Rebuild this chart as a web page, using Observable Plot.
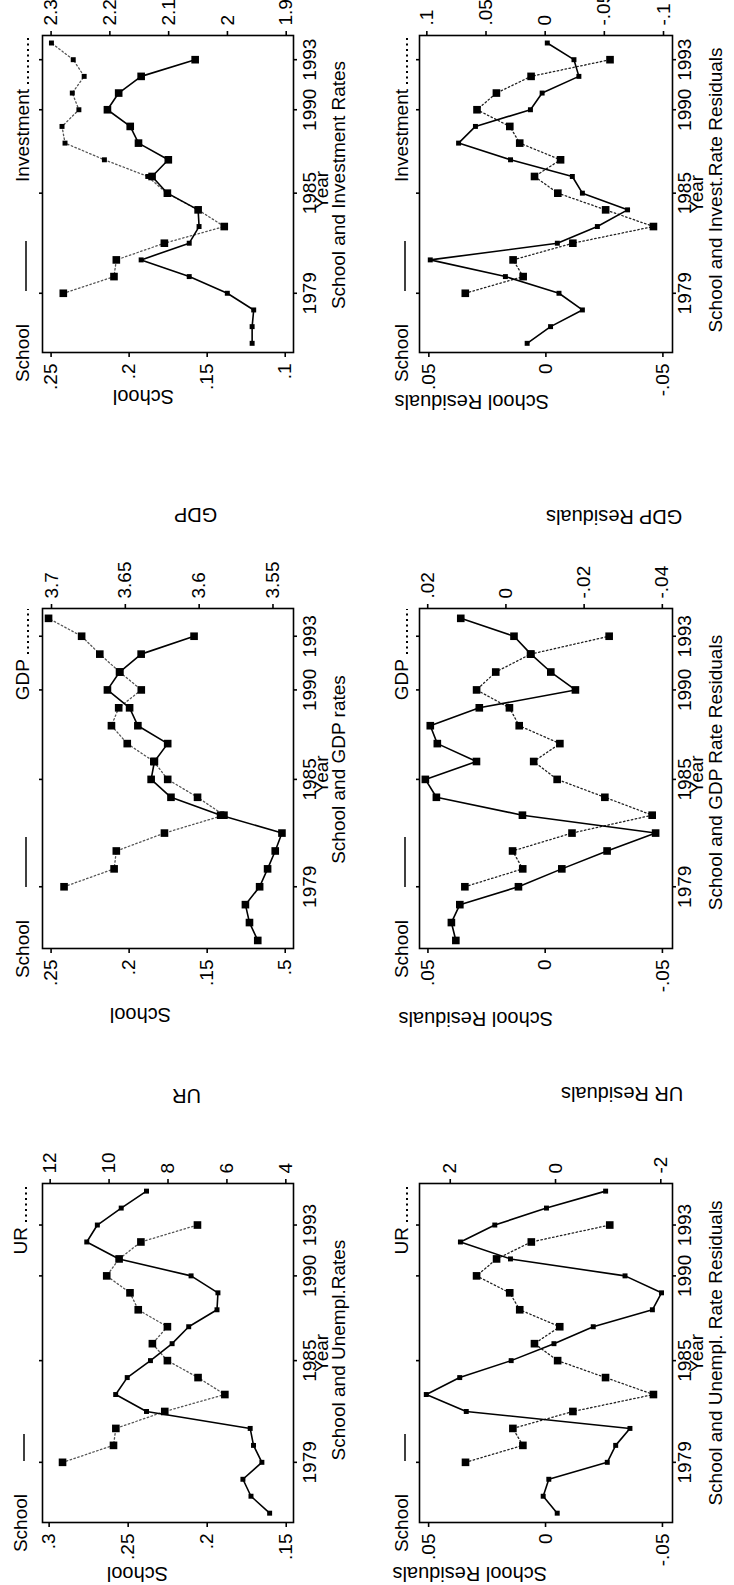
<!DOCTYPE html>
<html><head><meta charset="utf-8">
<script src="https://cdn.jsdelivr.net/npm/d3@7"></script>
<script src="https://cdn.jsdelivr.net/npm/@observablehq/plot@0.6"></script>
<style>
html,body{margin:0;padding:0;background:#fff;}
body{width:734px;height:1585px;overflow:hidden;position:relative;}
#land{position:absolute;left:0;top:0;width:1585px;height:734px;transform-origin:0 0;transform:translate(0px,1585px) rotate(-90deg);}
#land > svg{position:absolute;left:0;top:0;}
</style></head><body><div id="land"></div>
<script>
// ---------- data ----------
const xTicks = [1979, 1985, 1990, 1993];
const xTickLabels = ["1979", "1985", "1990", "1993"];

const years7695 = [1976,1977,1978,1979,1980,1981,1982,1983,1984,1985,1986,1987,1988,1989,1990,1991,1992,1993,1994,1995];
const years7993 = [1979,1980,1981,1982,1983,1984,1985,1986,1987,1988,1989,1990,1991,1992,1993];
const years7693 = [1976,1977,1978,1979,1980,1981,1982,1983,1984,1985,1986,1987,1988,1989,1990,1991,1992,1993];
const years7994 = [1979,1980,1981,1982,1983,1984,1985,1986,1987,1988,1989,1990,1991,1992,1993,1994];
const years7694 = [1976,1977,1978,1979,1980,1981,1982,1983,1984,1985,1986,1987,1988,1989,1990,1991,1992,1993,1994];

// School and Unempl. Rates
const schoolUR = [0.1605,0.1723,0.1774,0.1654,0.1707,0.1728,0.2384,0.2579,0.2506,0.2359,0.2222,0.2117,0.1938,0.1932,0.2102,0.2558,0.2762,0.2695,0.2544,0.2384];
const ur = [11.58,9.85,9.77,8.11,6.07,6.98,8.02,8.53,8.02,9.01,9.29,10.08,9.66,8.92,7.0];
// School and Unempl. Rate Residuals
const schoolURRes = [-0.0050,0.0010,-0.0014,-0.0264,-0.0300,-0.0361,0.0339,0.0510,0.0367,0.0147,-0.0036,-0.0204,-0.0457,-0.0496,-0.0340,0.0150,0.0364,0.0217,-0.0004,-0.0257];
const urRes = [1.71,0.62,0.81,-0.33,-1.86,-0.95,-0.04,0.40,-0.08,0.68,0.87,1.50,1.12,0.46,-1.03];
// School and GDP rates
const schoolGDP = [0.1176,0.1229,0.1255,0.1164,0.1113,0.1064,0.1021,0.1414,0.1732,0.1859,0.1838,0.1753,0.1944,0.1997,0.2139,0.2061,0.1923,0.1584];
const gdp = [3.6915,3.6576,3.6561,3.6235,3.5832,3.6011,3.6213,3.6307,3.6487,3.6594,3.6545,3.6392,3.6538,3.6673,3.6796,3.702];
// School and GDP Rate Residuals
const schoolGDPRes = [0.0381,0.0400,0.0364,0.0114,-0.0071,-0.0264,-0.0471,0.0097,0.0464,0.0511,0.0293,0.0460,0.0490,0.0281,-0.0129,-0.0024,0.0061,0.0133,0.0360];
const gdpRes = [0.0105,-0.0043,-0.0017,-0.0169,-0.0374,-0.0253,-0.0131,-0.0071,-0.0138,-0.0034,-0.0009,0.0075,0.0026,-0.0063,-0.0264];
// School and Investment Rates
const schoolInv = [0.1212,0.1212,0.1202,0.1371,0.1615,0.1923,0.1615,0.1552,0.1558,0.1755,0.1853,0.1749,0.1940,0.1993,0.2139,0.2067,0.1923,0.1577];
const inv = [2.2792,2.193,2.189,2.1073,2.0054,2.0499,2.1034,2.1355,2.2093,2.2763,2.2814,2.2527,2.2639,2.2437,2.2623,2.2994];
// School and Invest. Rate Residuals
const schoolInvRes = [0.0080,-0.0020,-0.0156,-0.0056,0.0173,0.0494,-0.0049,-0.0220,-0.0349,-0.0156,-0.0113,0.0151,0.0373,0.0301,0.0066,0.0016,-0.0141,-0.0120,-0.0006];
const invRes = [0.0675,0.0186,0.0271,-0.0234,-0.0915,-0.0511,-0.0107,0.0090,-0.0130,0.0215,0.0299,0.0576,0.0412,0.0119,-0.0548];

// tick values and labels
const schoolTicksUR = [0.3,0.25,0.2,0.15], schoolLabelsUR = [".3",".25",".2",".15"];
const urTicks = [12,10,8,6,4], urLabels = ["12","10","8","6","4"];
const resTicks = [0.05,0,-0.05], resLabels = [".05","0","-.05"];
const urResTicks = [2,0,-2], urResLabels = ["2","0","-2"];
const schoolTicksGDP = [0.25,0.2,0.15,0.1], schoolLabelsGDP = [".25",".2",".15",".5"];
const gdpTicks = [3.7,3.65,3.6,3.55], gdpLabels = ["3.7","3.65","3.6","3.55"];
const gdpResTicks = [0.02,0,-0.02,-0.04], gdpResLabels = [".02","0","-.02","-.04"];
const schoolTicksInv = [0.25,0.2,0.15,0.1], schoolLabelsInv = [".25",".2",".15",".1"];
const invTicks = [2.3,2.2,2.1,2,1.9], invLabels = ["2.3","2.2","2.1","2","1.9"];
const invResTicks = [0.1,0.05,0,-0.05,-0.1], invResLabels = [".1",".05","0","-.05","-.1"];

// ---------- drawing ----------
const FONT = "'Liberation Sans', Arial, Helvetica, sans-serif";
const W = 1585, H = 734;
const BIG = 4.3, SMALL = 2.8;
const land = document.getElementById("land");

function panel(cfg) {
  const [a0, a1] = cfg.leftDomain, [b0, b1] = cfg.rightDomain;
  const toLeft = v => a0 + (v - b0) * (a1 - a0) / (b1 - b0);
  const solid = cfg.solidYears.map((year, i) => ({year, value: cfg.solidValues[i]}));
  const dotted = cfg.dottedYears.map((year, i) => ({year, value: cfg.dottedValues[i]}));
  const rightPos = cfg.rightTicks.map(toLeft);
  const [fl, fr, ft, fb] = cfg.frame;
  const yd = d => toLeft(d.value);
  const svgEl = Plot.plot({
    width: W, height: H,
    marginLeft: fl, marginRight: W - fr, marginTop: ft, marginBottom: H - fb,
    style: {background: "transparent", fontFamily: FONT, fontSize: "19px", color: "black", overflow: "visible", maxWidth: "none"},
    x: {domain: cfg.xDomain},
    y: {domain: cfg.leftDomain},
    marks: [
      Plot.axisX({anchor: "bottom", ticks: xTicks, tickFormat: d => xTickLabels[xTicks.indexOf(d)], tickSize: 4, tickPadding: cfg.xPad, strokeWidth: 1.6, label: null}),
      Plot.axisX({anchor: "top", ticks: xTicks, tickFormat: () => "", tickSize: 4, strokeWidth: 1.6, label: null}),
      Plot.axisY({anchor: "left", ticks: cfg.leftTicks, tickFormat: d => cfg.leftLabels[cfg.leftTicks.indexOf(d)], tickSize: 4, tickPadding: 7, strokeWidth: 1.6, label: null}),
      Plot.axisY({anchor: "right", ticks: rightPos, tickFormat: d => cfg.rightLabels[rightPos.indexOf(d)], tickSize: 4, tickPadding: 6, strokeWidth: 1.6, label: null}),
      Plot.line(dotted, {x: "year", y: yd, stroke: cfg.dotColor, strokeWidth: 1.3, strokeDasharray: "1.5,2.5"}),
      Plot.line(solid, {x: "year", y: "value", stroke: "black", strokeWidth: 1.6}),
      Plot.dot(dotted, {filter: cfg.dottedBig, x: "year", y: yd, symbol: "square", r: BIG, fill: "black"}),
      Plot.dot(dotted, {filter: d => !cfg.dottedBig(d), x: "year", y: yd, symbol: "square", r: SMALL, fill: "black"}),
      Plot.dot(solid, {filter: cfg.solidBig, x: "year", y: "value", symbol: "square", r: BIG, fill: "black"}),
      Plot.dot(solid, {filter: d => !cfg.solidBig(d), x: "year", y: "value", symbol: "square", r: SMALL, fill: "black"}),
      Plot.frame({stroke: "black", strokeWidth: 1.6}),
      Plot.text([cfg.leftTitle], {frameAnchor: "left", dx: cfg.leftTitlePos[0], dy: cfg.leftTitlePos[1], rotate: -90, fontSize: 20}),
      ...(cfg.rightTitle ? [Plot.text([cfg.rightTitle], {frameAnchor: "right", dx: cfg.rightTitlePos[0], dy: cfg.rightTitlePos[1], rotate: -90, fontSize: 20})] : []),
      Plot.text(["Year"], {frameAnchor: "bottom", dx: cfg.yearPos[0], dy: cfg.yearPos[1], fontSize: 19}),
      Plot.text([cfg.caption], {frameAnchor: "bottom", dx: cfg.captionPos[0], dy: cfg.captionPos[1], fontSize: 19})
    ]
  });
  land.appendChild(svgEl);
  // legend keys
  const lb = ft - cfg.keyGap;
  const g = d3.select(svgEl).append("g").attr("font-family", FONT).attr("font-size", 19).attr("fill", "black");
  const t1 = g.append("text").attr("x", fl).attr("y", lb).text(cfg.leftKey);
  const w1 = t1.node().getComputedTextLength();
  g.append("line").attr("x1", fl + w1 + 4).attr("x2", fl + w1 + 4 + cfg.solidKeyLen)
    .attr("y1", lb - 3).attr("y2", lb - 3).attr("stroke", "black").attr("stroke-width", 1.5);
  g.append("line").attr("x1", fr - cfg.dotKeyLen).attr("x2", fr)
    .attr("y1", lb - 1).attr("y2", lb - 1).attr("stroke", "black").attr("stroke-width", 2).attr("stroke-dasharray", "2,3.5");
  g.append("text").attr("x", fr - cfg.dotKeyLen - 5).attr("y", lb).attr("text-anchor", "end").text(cfg.rightKey);
}

const TOP = [42, 293], BOT = [419, 672];
const never = () => false, always = () => true;
const RATE_DOT = "#555", RES_DOT = "#222";

panel({
  frame: [62, 401, ...TOP], xDomain: [1975.45, 1995.45], xPad: 5, keyGap: 15, dotColor: RATE_DOT,
  leftDomain: [0.1454, 0.3042], rightDomain: [3.74, 12.26],
  leftTicks: schoolTicksUR, leftLabels: schoolLabelsUR, rightTicks: urTicks, rightLabels: urLabels,
  solidYears: years7695, solidValues: schoolUR, dottedYears: years7993, dottedValues: ur,
  solidBig: never, dottedBig: always,
  leftTitle: "School", leftTitlePos: [-51, 0], rightTitle: "UR", rightTitlePos: [88, 4],
  yearPos: [0, 34], caption: "School and Unempl.Rates", captionPos: [3, 51],
  leftKey: "School", rightKey: "UR", solidKeyLen: 27, dotKeyLen: 38
});
panel({
  frame: [62, 401, ...BOT], xDomain: [1975.45, 1995.45], xPad: 1, keyGap: 11, dotColor: RES_DOT,
  leftDomain: [-0.0543, 0.0539], rightDomain: [-2.222, 2.584],
  leftTicks: resTicks, leftLabels: resLabels, rightTicks: urResTicks, rightLabels: urResLabels,
  solidYears: years7695, solidValues: schoolURRes, dottedYears: years7993, dottedValues: urRes,
  solidBig: never, dottedBig: always,
  leftTitle: "School Residuals", leftTitlePos: [-51, 1], rightTitle: "UR Residuals", rightTitlePos: [90, 15],
  yearPos: [0, 30], caption: "School and Unempl. Rate Residuals", captionPos: [0, 49],
  leftKey: "School", rightKey: "UR", solidKeyLen: 27, dotKeyLen: 38
});
panel({
  frame: [636, 976, ...TOP], xDomain: [1975.55, 1994.55], xPad: 5, keyGap: 13, dotColor: RATE_DOT,
  leftDomain: [0.0947, 0.2555], rightDomain: [3.5361, 3.7061],
  leftTicks: schoolTicksGDP, leftLabels: schoolLabelsGDP, rightTicks: gdpTicks, rightLabels: gdpLabels,
  solidYears: years7693, solidValues: schoolGDP, dottedYears: years7994, dottedValues: gdp,
  solidBig: always, dottedBig: always,
  leftTitle: "School", leftTitlePos: [-66, 3], rightTitle: "GDP", rightTitlePos: [94, 6],
  yearPos: [4, 34], caption: "School and GDP rates", captionPos: [9, 51],
  leftKey: "School", rightKey: "GDP", solidKeyLen: 50, dotKeyLen: 45
});
panel({
  frame: [636, 976, ...BOT], xDomain: [1975.55, 1994.55], xPad: 1, keyGap: 11, dotColor: RES_DOT,
  leftDomain: [-0.0543, 0.0536], rightDomain: [-0.0426, 0.0221],
  leftTicks: resTicks, leftLabels: resLabels, rightTicks: gdpResTicks, rightLabels: gdpResLabels,
  solidYears: years7694, solidValues: schoolGDPRes, dottedYears: years7993, dottedValues: gdpRes,
  solidBig: always, dottedBig: always,
  leftTitle: "School Residuals", leftTitlePos: [-70, 7], rightTitle: "GDP Residuals", rightTitlePos: [92, 0],
  yearPos: [4, 30], caption: "School and GDP Rate Residuals", captionPos: [6, 49],
  leftKey: "School", rightKey: "GDP", solidKeyLen: 50, dotKeyLen: 45
});
panel({
  frame: [1232, 1549, ...TOP], xDomain: [1975.45, 1994.45], xPad: 5, keyGap: 13, dotColor: RATE_DOT,
  leftDomain: [0.0947, 0.2555], rightDomain: [1.8876, 2.3146],
  leftTicks: schoolTicksInv, leftLabels: schoolLabelsInv, rightTicks: invTicks, rightLabels: invLabels,
  solidYears: years7693, solidValues: schoolInv, dottedYears: years7994, dottedValues: inv,
  solidBig: d => d.year >= 1984, dottedBig: d => d.year < 1984,
  leftTitle: "School", leftTitlePos: [-44, 6], rightTitle: null,
  yearPos: [4, 34], caption: "School and Investment Rates", captionPos: [9, 51],
  leftKey: "School", rightKey: "Investment", solidKeyLen: 50, dotKeyLen: 48
});
panel({
  frame: [1232, 1549, ...BOT], xDomain: [1975.45, 1994.45], xPad: 1, keyGap: 11, dotColor: RES_DOT,
  leftDomain: [-0.0541, 0.054], rightDomain: [-0.1076, 0.1062],
  leftTicks: resTicks, leftLabels: resLabels, rightTicks: invResTicks, rightLabels: invResLabels,
  solidYears: years7694, solidValues: schoolInvRes, dottedYears: years7993, dottedValues: invRes,
  solidBig: never, dottedBig: always,
  leftTitle: "School Residuals", leftTitlePos: [-49, 3], rightTitle: null,
  yearPos: [0, 30], caption: "School and Invest.Rate Residuals", captionPos: [4, 49],
  leftKey: "School", rightKey: "Investment", solidKeyLen: 50, dotKeyLen: 48
});
</script></body></html>
